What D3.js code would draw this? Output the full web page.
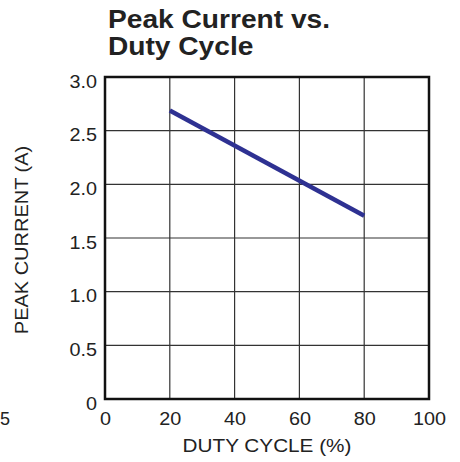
<!DOCTYPE html>
<html><head><meta charset="utf-8">
<script src="https://cdn.jsdelivr.net/npm/d3@7"></script>
<style>body{margin:0;background:#fff}svg{display:block}text{font-family:"Liberation Sans",Arial,sans-serif}</style>
</head><body>
<script>
const dutyCycle = [20, 80];
const peakCurrent = [2.687, 1.708];
const xTicks = [0, 20, 40, 60, 80, 100];
const yTicks = [0, 0.5, 1.0, 1.5, 2.0, 2.5, 3.0];
const yTickLabels = ["0", "0.5", "1.0", "1.5", "2.0", "2.5", "3.0"];

const W = 460, H = 462;
const m = {left: 105, right: 31, top: 77, bottom: 63};
const FONT = '"Liberation Sans",Arial,sans-serif';
const svg = d3.select("body").append("svg").attr("width", W).attr("height", H);
const x = d3.scaleLinear().domain([0, 100]).range([m.left, W - m.right]);
const y = d3.scaleLinear().domain([0, 3]).range([H - m.bottom, m.top]);

function widen(sel, k) {
  sel.each(function () {
    const len = this.getComputedTextLength();
    d3.select(this).attr("textLength", len * k).attr("lengthAdjust", "spacingAndGlyphs");
  });
}

// gridlines
svg.append("g").selectAll("line").data(xTicks.slice(1, -1)).join("line")
  .attr("x1", d => x(d)).attr("x2", d => x(d)).attr("y1", y(0)).attr("y2", y(3))
  .attr("stroke", "#333").attr("stroke-width", 1.2);
svg.append("g").selectAll("line").data(yTicks.slice(1, -1)).join("line")
  .attr("y1", d => y(d)).attr("y2", d => y(d)).attr("x1", x(0)).attr("x2", x(100))
  .attr("stroke", "#333").attr("stroke-width", 1.2);

// frame
svg.append("rect").attr("x", x(0)).attr("y", y(3)).attr("width", x(100) - x(0)).attr("height", y(0) - y(3))
  .attr("fill", "none").attr("stroke", "#111").attr("stroke-width", 2.5);

// axes labels
const xa = svg.append("g").attr("transform", `translate(0,${y(0)})`)
  .call(d3.axisBottom(x).tickValues(xTicks).tickSize(0).tickPadding(13).tickFormat(d3.format("d")));
xa.select(".domain").remove();
xa.selectAll("text").attr("font-size", 18).attr("fill", "#222").attr("font-family", FONT);
widen(xa.selectAll("text"), 1.1);

const ya = svg.append("g").attr("transform", `translate(${x(0)},0)`)
  .call(d3.axisLeft(y).tickValues(yTicks).tickSize(0).tickPadding(8).tickFormat((d, i) => yTickLabels[i]));
ya.select(".domain").remove();
ya.selectAll("text").attr("font-size", 18).attr("fill", "#222").attr("dy", "0.56em").attr("font-family", FONT);
widen(ya.selectAll("text"), 1.1);

// series line
const pts = dutyCycle.map((d, i) => [d, peakCurrent[i]]);
svg.append("path").datum(pts)
  .attr("d", d3.line().x(d => x(d[0])).y(d => y(d[1])))
  .attr("fill", "none").attr("stroke", "#2e3192").attr("stroke-width", 4.5);

// title
const t1 = svg.append("text").attr("x", 108).attr("y", 28).attr("font-size", 25).attr("font-weight", "bold").attr("fill", "#222").text("Peak Current vs.");
const t2 = svg.append("text").attr("x", 108).attr("y", 55).attr("font-size", 25).attr("font-weight", "bold").attr("fill", "#222").text("Duty Cycle");
widen(t1, 1.125); widen(t2, 1.125);

// axis titles
const xt = svg.append("text").attr("x", (x(0) + x(100)) / 2).attr("y", 452).attr("text-anchor", "middle")
  .attr("font-size", 18.5).attr("fill", "#222").text("DUTY CYCLE (%)");
widen(xt, 1.12);
const yt = svg.append("text").attr("transform", `translate(28,${(y(0) + y(3)) / 2 + 2}) rotate(-90)`).attr("text-anchor", "middle")
  .attr("font-size", 18.5).attr("fill", "#222").text("PEAK CURRENT (A)");
widen(yt, 1.08);

// neighbouring fragment
svg.append("text").attr("x", 0).attr("y", 425).attr("font-size", 18).attr("fill", "#222").text("5");
</script>
</body></html>
